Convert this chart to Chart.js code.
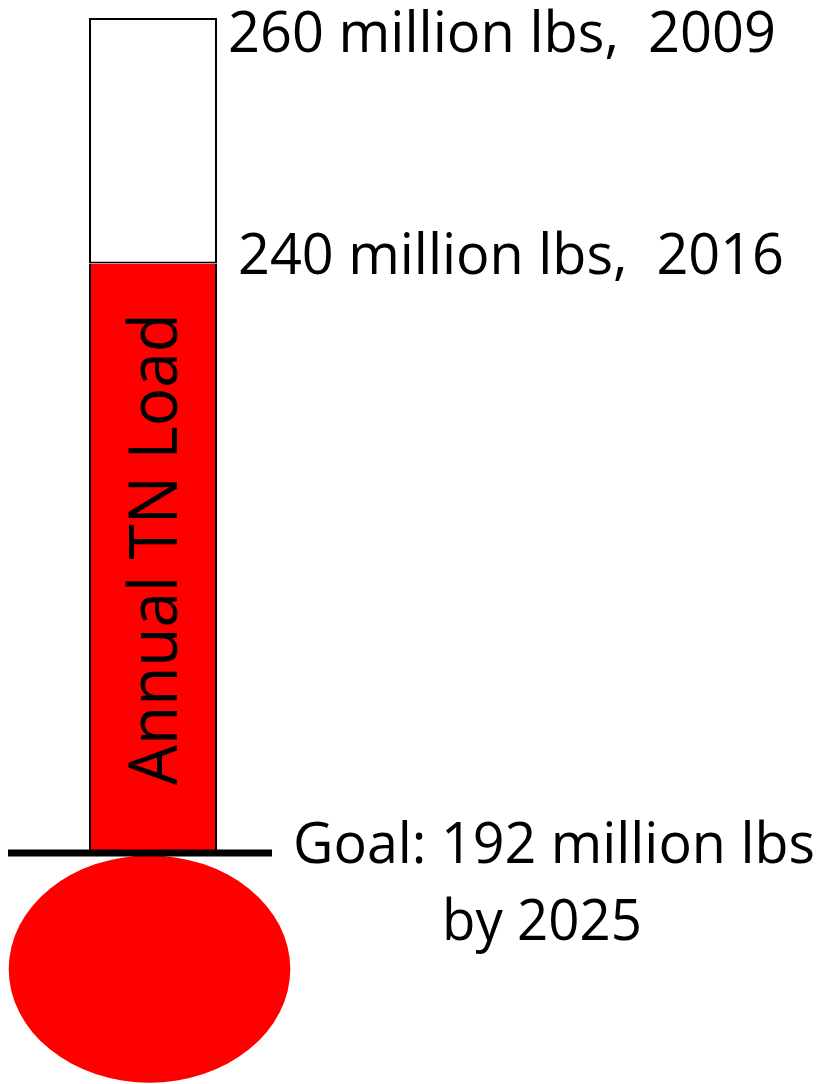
<!DOCTYPE html>
<html>
<head>
<meta charset="utf-8">
<script src="https://cdn.jsdelivr.net/npm/chart.js@4.4.1/dist/chart.umd.min.js"></script>
<style>
  html, body { margin: 0; padding: 0; background: #fff; }
  #wrap { width: 825px; height: 1084px; position: relative; }
</style>
</head>
<body>
<div id="wrap"><canvas id="thermo"></canvas></div>
<script>
  // ----- Data (million lbs of total nitrogen per year) -----
  const categories = ["Annual TN Load"];
  const goalLoad = [192];      // goal by 2025
  const load2016 = [240];      // current level
  const load2009 = [260];      // starting level
  const bulbRange = [173.3, 191.8]; // value span covered by the bulb

  const labelValues = [260, 240, 192, 192];
  const labelTexts = ["260 million lbs,  2009", "240 million lbs,  2016", "Goal: 192 million lbs", "by 2025"];

  // ----- Styles -----
  const RED = "#ff0000";
  const INK = "#000000";
  const FONT = '"Open Sans", "DejaVu Sans", sans-serif';
  // label placement relative to the tube's right edge / value pixel
  const labelPlacement = [
    { dx: 11, dy: 34, align: "left", maxW: 548 },
    { dx: 21, dy: 10, align: "left", maxW: 546 },
    { dx: 76, dy: 10, align: "left", maxW: 522 },
    { dx: 325, dy: 87, align: "center", maxW: 200 },
  ];

  const thermoPlugin = {
    id: "thermo",
    beforeDatasetsDraw(chart) {
      const { ctx, scales: { y } } = chart;
      const bar = chart.getDatasetMeta(0).data[0];
      const top = y.getPixelForValue(bulbRange[1]);
      const bottom = y.getPixelForValue(bulbRange[0]);
      ctx.save();
      ctx.fillStyle = RED;
      ctx.beginPath();
      ctx.ellipse(bar.x - 3.5, (top + bottom) / 2, bar.width * 1.1, (bottom - top) / 2, 0, 0, Math.PI * 2);
      ctx.fill();
      ctx.restore();
    },
    afterDatasetsDraw(chart) {
      const { ctx, scales: { y } } = chart;
      const bar = chart.getDatasetMeta(0).data[0];
      const gy = y.getPixelForValue(goalLoad[0]);
      ctx.save();
      // goal line
      ctx.strokeStyle = INK;
      ctx.lineWidth = 7;
      ctx.beginPath();
      ctx.moveTo(bar.x - 145, gy);
      ctx.lineTo(bar.x + 119, gy);
      ctx.stroke();

      // vertical label inside the tube
      ctx.fillStyle = INK;
      ctx.font = "67px " + FONT;
      ctx.textAlign = "center";
      ctx.textBaseline = "alphabetic";
      ctx.translate(bar.x + 24, (bar.y + bar.base) / 2 - 9);
      ctx.rotate(-Math.PI / 2);
      ctx.fillText(categories[0], 0, 0, 472);
      ctx.restore();

      // value labels
      const right = bar.x + bar.width / 2;
      ctx.save();
      ctx.fillStyle = INK;
      ctx.font = "56px " + FONT;
      ctx.textBaseline = "alphabetic";
      labelTexts.forEach((t, i) => {
        const p = labelPlacement[i];
        ctx.textAlign = p.align;
        ctx.fillText(t, right + p.dx, y.getPixelForValue(labelValues[i]) + p.dy, p.maxW);
      });
      ctx.restore();
    },
  };

  new Chart(document.getElementById("thermo"), {
    type: "bar",
    data: {
      labels: categories,
      datasets: [
        {
          label: "2016",
          data: [[goalLoad[0], load2016[0]]],
          backgroundColor: RED,
          borderColor: INK,
          borderWidth: 2,
          borderSkipped: "top",
          grouped: false,
        },
        {
          label: "2009",
          data: [[load2016[0], load2009[0]]],
          backgroundColor: "#ffffff",
          borderColor: INK,
          borderWidth: 2,
          borderSkipped: false,
          grouped: false,
        },
      ],
    },
    options: {
      responsive: true,
      maintainAspectRatio: false,
      animation: false,
      devicePixelRatio: 1,
      layout: { padding: { top: 18, bottom: 231, left: 0, right: 519 } },
      datasets: { bar: { categoryPercentage: 128 / 306, barPercentage: 1 } },
      plugins: { legend: { display: false }, tooltip: { enabled: false } },
      scales: {
        x: { display: false },
        y: { display: false, min: goalLoad[0], max: load2009[0] },
      },
    },
    plugins: [thermoPlugin],
  });
</script>
</body>
</html>
